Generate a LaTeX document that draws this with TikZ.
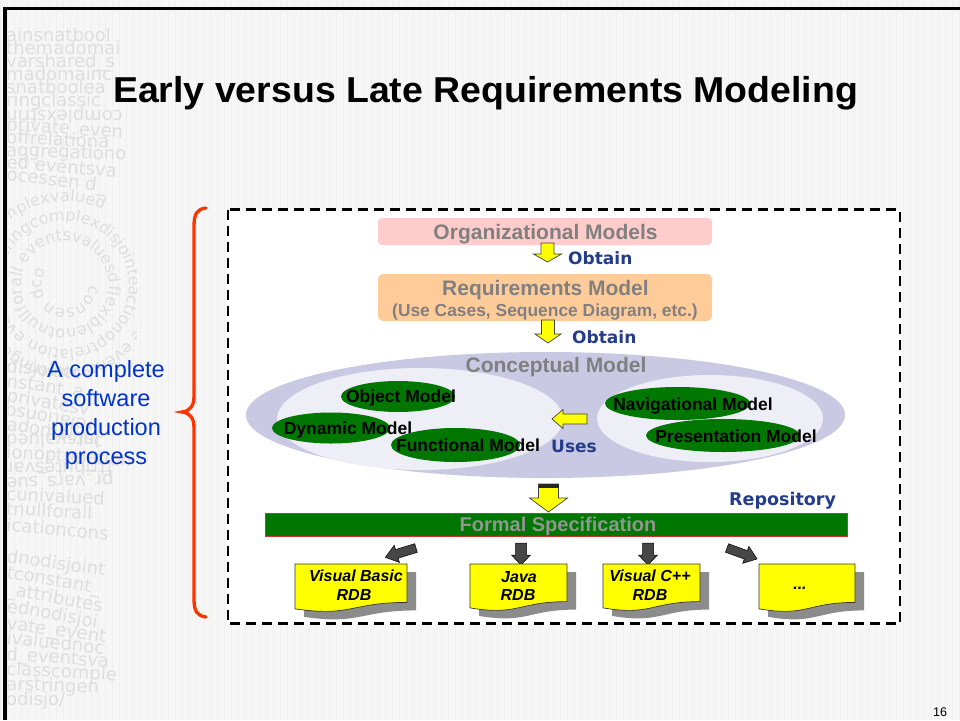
\documentclass[tikz,border=0pt]{standalone}
\usepackage{fontspec}
\setmainfont{Liberation Sans}
\newfontfamily\dvs{DejaVu Sans}
\usetikzlibrary{shapes.geometric,decorations.text}

\definecolor{slidebg}{HTML}{F6F6F6}
\definecolor{gridline}{HTML}{EFEFEF}
\definecolor{texgray}{HTML}{DEDEDE}
\definecolor{modelgray}{HTML}{808080}
\definecolor{navy}{HTML}{233C8C}
\definecolor{orgpink}{HTML}{FFCCCC}
\definecolor{reqpeach}{HTML}{FFCC99}
\definecolor{lavender}{HTML}{C9C9E3}
\definecolor{palelav}{HTML}{EEEEF7}
\definecolor{modelgreen}{HTML}{007700}
\definecolor{arrowyellow}{HTML}{FFFF00}
\definecolor{docyellow}{HTML}{FFFF00}
\definecolor{bracered}{HTML}{FF3300}
\definecolor{noteblue}{HTML}{0033CC}
\definecolor{specred}{HTML}{CC3333}

\newcommand{\pxsize}[1]{\fontsize{#1}{#1}\selectfont}
% block arrow: style, tail x, tail y, angle, length, shaft half width, head half width, head length
\newcommand{\barrow}[8]{%
  \draw[#1, shift={(#2,#3)}, rotate=#4]
    (0,-#6) -- ({#5-#8},-#6) -- ({#5-#8},-#7) -- (#5,0) --
    ({#5-#8},#7) -- ({#5-#8},#6) -- (0,#6) -- cycle;}
% document outline with a wavy lower edge: x, y (top left), width, height
\newcommand{\docpath}[4]{%
  (#1,#2) -- ({#1+#3},#2) -- ({#1+#3},{#2+0.8*#4})
  .. controls ({#1+0.5*#3},{#2+0.8*#4}) and ({#1+0.5*#3},{#2+1.107*#4}) ..
  (#1,{#2+0.934*#4}) -- cycle}
\newcommand{\docsheet}[4]{%
  \fill[docshadow] \docpath{#1+9}{#2+8}{#3}{#4};
  \draw[doc] \docpath{#1}{#2}{#3}{#4};}

\begin{document}
\begin{tikzpicture}[x=1pt,y=-1pt,
  boxtext/.style={font=\bfseries\pxsize{21}, text=modelgray, inner sep=0, anchor=base},
  navytext/.style={font=\dvs\bfseries\pxsize{17}, text=navy, inner sep=0, anchor=base west},
  greenblob/.style={ellipse, fill=modelgreen, inner sep=0},
  greenlabel/.style={font=\bfseries\pxsize{17.5}, inner sep=0, anchor=base},
  yarrow/.style={fill=arrowyellow, draw=black!75, line width=0.7},
  darrow/.style={fill=black!72, draw=black, line width=0.5},
  doc/.style={fill=docyellow, draw=black!80, line width=0.7},
  docshadow/.style={fill=black!45},
  doclabel/.style={font=\bfseries\itshape\pxsize{16}, inner sep=0, anchor=base},
  texture/.style={font=\dvs\pxsize{18}, text=texgray, inner sep=0, anchor=base west},
]
\useasboundingbox (0,0) rectangle (960,720);

% slide background with a faint grid
\fill[slidebg] (0,0) rectangle (960,720);
\draw[gridline, line width=0.4, step=7] (0,0) grid (960,720);

% word texture in the left strip
\begin{scope}
  \clip (8,28) rectangle (136,712);
  \node[texture] (w1) at (6,41) {ainsnatbool};
  \node[texture] (w2) at (6,54) {themadomai};
  \node[texture] (w3) at (6,67) {varshared\_s};
  \node[texture] (w4) at (6,80) {madomainc};
  \node[texture] (w5) at (6,93) {snatboolea};
  \node[texture] (w6) at (6,106) {ringclassic};
  \node[texture, rotate=180, anchor=base east] (w7) at (6,110) {complexstrin};
  \node[texture, rotate=-4] (w8) at (6,130) {private\_even};
  \node[texture, rotate=-3] (w9) at (6,143) {offrelationa};
  \node[texture, rotate=-2] (w10) at (6,156) {aggregationo};
  \node[texture, rotate=-5] (w11) at (6,168) {ed eventsva};
  \node[texture, rotate=-7] (w12) at (6,180) {ocessen d\_};
  {\dvs\pxsize{16}
   \path[decorate, decoration={text along path, text color=texgray,
      text={consen dco}}] (65,285) circle[radius=24];
   \path[decorate, decoration={text along path, text color=texgray,
      text={flexiblenotnullforall eventsvaluesdisj}}] (65,285) circle[radius=44];
   \path[decorate, decoration={text along path, text color=texgray,
      text={actionoptrelation eventsvarstringcomplexdisjointed}}] (65,285) circle[radius=64];
   \path[decorate, decoration={text along path, text color=texgray,
      text={private eventsvarstringcomplexdisjointcomplexvalued}}] (65,285) circle[radius=84];}
  \node[texture, rotate=-6] (w13) at (6,372) {disjointc};
  \node[texture, rotate=-8] (w14) at (6,387) {nstant\_a};
  \node[texture, rotate=-10] (w15) at (6,401) {privatesv};
  \node[texture, rotate=170, anchor=base east] (w16) at (6,405) {relationsd};
  \node[texture, rotate=-10] (w17) at (6,430) {adomainsc};
  \node[texture, rotate=180, anchor=base east] (w18) at (6,434) {intsvalued};
  \node[texture, rotate=-4] (w19) at (6,458) {ionoptrelation};
  \node[texture, rotate=180, anchor=base east] (w20) at (6,462) {ttributesvar};
  \node[texture, rotate=182, anchor=base east] (w21) at (6,478) {pr\_vars\_sue};
  \node[texture, rotate=-3] (w22) at (6,500) {cunivalued};
  \node[texture, rotate=-3] (w23) at (6,515) {tnullforall};
  \node[texture, rotate=-5] (w24) at (6,531) {icationcons};
  \node[texture, rotate=-8] (w25) at (6,562) {dnodisjoint};
  \node[texture, rotate=-10] (w26) at (6,578) {tconstant\_};
  \node[texture, rotate=-10] (w27) at (6,595) {\_attributes};
  \node[texture, rotate=-10] (w28) at (6,612) {ednodisjoi};
  \node[texture, rotate=-8] (w29) at (6,629) {vate\_event};
  \node[texture, rotate=-6] (w30) at (6,644) {ivaluednoc};
  \node[texture, rotate=-4] (w31) at (6,660) {d\_eventsva};
  \node[texture, rotate=-3] (w32) at (6,675) {classcomple};
  \node[texture, rotate=-2] (w33) at (6,690) {arstringen};
  \node[texture] (w34) at (6,705) {odisjo/};
\end{scope}

% slide frame
\draw[line width=3.3] (5,720) -- (5,8.3) -- (960,8.3);

% title
\node[font=\bfseries\pxsize{36}\addfontfeatures{FakeStretch=1.04}, inner sep=0,
  anchor=base west] (title) at (113,102)
  {Early versus Late Requirements Modeling};

% brace and note
\draw[bracered, line width=3.3, line cap=round]
  (206,208) .. controls (197,209) and (194,214) .. (194,226) -- (194,396)
  .. controls (194,406) and (190,411) .. (182,412)
  .. controls (190,413) and (194,418) .. (194,428) -- (194,599)
  .. controls (194,611) and (197,616) .. (206,617);
\node[font=\pxsize{23.5}, text=noteblue, align=center, inner sep=0,
  anchor=base] (note) at (106,464)
  {A complete\\[5.5pt]software\\[5.5pt]production\\[5.5pt]process};

% dashed frame
\draw[fill=white, line width=2.7, dash pattern=on 10pt off 6pt]
  (228,209.5) rectangle (900,623.5);

% organizational and requirements models
\node[fill=orgpink, rounded corners=4, minimum width=334, minimum height=27,
  inner sep=0] (org) at (545,231.5) {};
\node[boxtext] (orgtext) at (545.5,239.5) {Organizational Models};
\barrow{yarrow}{547.5}{243}{-90}{19}{6.5}{14}{8}
\node[navytext] (obtainA) at (568,264) {Obtain};

\node[fill=reqpeach, rounded corners=5, minimum width=334, minimum height=47,
  inner sep=0] (req) at (545,297.5) {};
\node[boxtext] (reqtext) at (545.5,295.5) {Requirements Model};
\node[boxtext, font=\bfseries\pxsize{17.4}] (reqsub) at (545,316)
  {(Use Cases, Sequence Diagram, etc.)};
\barrow{yarrow}{548}{320}{-90}{23}{6.5}{13}{9}
\node[navytext] (obtainB) at (572,343) {Obtain};

% conceptual model
\node[ellipse, fill=lavender, minimum width=599, minimum height=126, inner sep=0]
  (concept) at (545.5,415) {};
\node[ellipse, fill=palelav, minimum width=286, minimum height=102, inner sep=0]
  (leftpart) at (420,419) {};
\node[ellipse, fill=palelav, minimum width=226, minimum height=87, inner sep=0]
  (rightpart) at (710,418.5) {};
\node[boxtext] (concepttext) at (556,372.5) {Conceptual Model};

\node[greenblob, minimum width=114, minimum height=31] (objm) at (398,396.5) {};
\node[greenlabel] (objtext) at (401,402) {Object Model};
\node[greenblob, minimum width=118, minimum height=31] (dynm) at (331,428) {};
\node[greenlabel] (dyntext) at (348,434) {Dynamic Model};
\node[greenblob, minimum width=129, minimum height=34] (funcm) at (455.5,445) {};
\node[greenlabel] (functext) at (468,451) {Functional Model};
\node[greenblob, minimum width=145, minimum height=33] (navm) at (677.5,403.5) {};
\node[greenlabel] (navtext) at (693,410) {Navigational Model};
\node[greenblob, minimum width=154, minimum height=33] (presm) at (723,435.5) {};
\node[greenlabel] (prestext) at (736,442) {Presentation Model};

\barrow{yarrow}{587}{419}{180}{35}{5}{9.5}{11}
\node[navytext] (uses) at (551,452) {Uses};

% repository
\barrow{yarrow}{548.5}{484}{-90}{28}{10}{19}{14}
\fill[black!85] (538.5,484) rectangle (558.5,488);
\node[navytext, font=\dvs\bfseries\pxsize{17.5}] (repo) at (729,505) {Repository};
\node[fill=modelgreen, draw=specred, line width=0.8, minimum width=582,
  minimum height=23, inner sep=0] (formal) at (556,524.5) {};
\node[boxtext, font=\bfseries\pxsize{20}, text=black!42] (formaltext) at (558,531)
  {Formal Specification};

% generated implementations
\barrow{darrow}{416}{548}{197}{32}{4.5}{9}{12}
\barrow{darrow}{521}{543}{-90}{22}{5.5}{9.5}{10}
\barrow{darrow}{648}{543}{-90}{22}{5.5}{9.5}{10}
\barrow{darrow}{727}{548}{-20}{32}{4.5}{9}{12}

\docsheet{295}{564}{112}{48}
\docsheet{470}{564}{97}{47}
\docsheet{603}{564}{97}{47}
\docsheet{759}{564}{96}{48}

\node[doclabel] (vbA) at (356,581) {Visual Basic};
\node[doclabel] (vbB) at (354,600) {RDB};
\node[doclabel] (javaA) at (519,582) {Java};
\node[doclabel] (javaB) at (518,600) {RDB};
\node[doclabel] (cppA) at (650,581) {Visual C++};
\node[doclabel] (cppB) at (650,600) {RDB};
\node[doclabel] (moreA) at (800,589) {...};

% page number
\node[font=\pxsize{12.5}, inner sep=0, anchor=base] (pagenum) at (940,716) {16};
\end{tikzpicture}
\end{document}
